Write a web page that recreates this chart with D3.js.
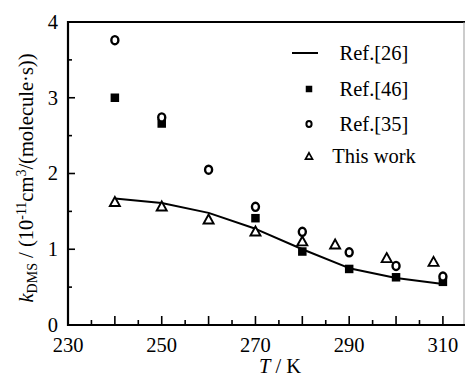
<!DOCTYPE html>
<html><head><meta charset="utf-8">
<script src="https://cdn.jsdelivr.net/npm/d3@7"></script>
<style>
html,body{margin:0;padding:0;background:#fff;}
svg{display:block;}
</style></head>
<body><svg id="c" width="465" height="383"></svg>
<script>
const xTickLabels = [230, 250, 270, 290, 310];
const yTickLabels = [0, 1, 2, 3, 4];
const ref26T = [240, 250, 260, 270, 280, 290, 300, 310];
const ref26K = [1.67, 1.61, 1.48, 1.27, 1.00, 0.75, 0.62, 0.54];
const ref46T = [240, 250, 270, 280, 290, 300, 310];
const ref46K = [3.00, 2.66, 1.41, 0.97, 0.74, 0.63, 0.57];
const ref35T = [240, 250, 260, 270, 280, 290, 300, 310];
const ref35K = [3.76, 2.74, 2.05, 1.56, 1.23, 0.96, 0.78, 0.64];
const thisT = [240, 250, 260, 270, 280, 287, 298, 308];
const thisK = [1.63, 1.57, 1.40, 1.24, 1.11, 1.07, 0.89, 0.84];
const legendLabels = ["Ref.[26]", "Ref.[46]", "Ref.[35]", "This work"];

const FONT = "Liberation Serif";
const FS = 20.5, SUB = 14;
const svg = d3.select("#c");
const L = 68, T = 22, R = 464, B = 325;
const x = d3.scaleLinear().domain([230, 314.5]).range([L, R]);
const y = d3.scaleLinear().domain([0, 4]).range([B, T]);

// frame
svg.append("line").attr("x1", L).attr("x2", 465).attr("y1", T).attr("y2", T).attr("stroke", "#000").attr("stroke-width", 2);
svg.append("line").attr("x1", R).attr("x2", R).attr("y1", T).attr("y2", B).attr("stroke", "#999").attr("stroke-width", 1);

// x axis
const xMajor = d3.range(230, 311, 10);
const xMinor = d3.range(235, 314, 10);
const gx = svg.append("g");
gx.selectAll(".xm").data(xMajor).join("line").attr("x1", d => x(d)).attr("x2", d => x(d)).attr("y1", B).attr("y2", B - 9).attr("stroke", "#000").attr("stroke-width", 1.6);
gx.selectAll(".xn").data(xMinor).join("line").attr("x1", d => x(d)).attr("x2", d => x(d)).attr("y1", B).attr("y2", B - 5).attr("stroke", "#000").attr("stroke-width", 1.6);
gx.selectAll("text").data(xTickLabels).join("text").attr("font-family", FONT).attr("x", d => x(d)).attr("y", 352).attr("text-anchor", "middle").attr("font-size", FS).text(d => d);
svg.append("line").attr("x1", L - 1).attr("x2", 465).attr("y1", B).attr("y2", B).attr("stroke", "#000").attr("stroke-width", 2.2);

// y axis
const yMinor = d3.range(0.5, 4, 1);
const gy = svg.append("g");
gy.selectAll(".ym").data(yTickLabels).join("line").attr("x1", L).attr("x2", L + 7).attr("y1", d => y(d)).attr("y2", d => y(d)).attr("stroke", "#000").attr("stroke-width", 1.6);
gy.selectAll(".yn").data(yMinor).join("line").attr("x1", L).attr("x2", L + 4).attr("y1", d => y(d)).attr("y2", d => y(d)).attr("stroke", "#000").attr("stroke-width", 1.6);
gy.selectAll("text").data(yTickLabels).join("text").attr("font-family", FONT).attr("x", 58).attr("y", d => y(d) + 6.8).attr("text-anchor", "end").attr("font-size", FS).text(d => d);
svg.append("line").attr("x1", L).attr("x2", L).attr("y1", T - 1).attr("y2", B + 1).attr("stroke", "#000").attr("stroke-width", 2.2);

// axis titles
const xt = svg.append("text").attr("font-family", FONT).attr("x", 280).attr("y", 373).attr("text-anchor", "middle").attr("font-size", FS);
xt.append("tspan").attr("font-style", "italic").text("T");
xt.append("tspan").text(" / K");

const yt = svg.append("text").attr("font-family", FONT).attr("transform", "translate(33,178) rotate(-90)").attr("text-anchor", "middle").attr("font-size", FS);
yt.append("tspan").attr("font-style", "italic").text("k");
yt.append("tspan").attr("font-size", SUB).attr("dy", 4).text("DMS");
yt.append("tspan").attr("dy", -4).text(" / (10");
yt.append("tspan").attr("font-size", SUB).attr("dy", -7.5).text("-11");
yt.append("tspan").attr("dy", 7.5).text("cm");
yt.append("tspan").attr("font-size", SUB).attr("dy", -7.5).text("3");
yt.append("tspan").attr("dy", 7.5).text("/(molecule·s))");

// line Ref.[26]
const lineGen = d3.line().x(d => x(d[0])).y(d => y(d[1]));
svg.append("path").datum(ref26T.map((t, i) => [t, ref26K[i]])).attr("d", lineGen).attr("fill", "none").attr("stroke", "#000").attr("stroke-width", 2).attr("stroke-linejoin", "round");

// markers
function square(g, cx, cy, s) {
  g.append("rect").attr("x", cx - s / 2).attr("y", cy - s / 2).attr("width", s).attr("height", s).attr("fill", "#000");
}
function circle(g, cx, cy, r, sw) {
  g.append("ellipse").attr("cx", cx).attr("cy", cy).attr("rx", r).attr("ry", r * 1.15).attr("fill", "#fff").attr("stroke", "#000").attr("stroke-width", sw);
}
function tri(g, cx, cy, s, sw) {
  const h = s * 0.9;
  g.append("path").attr("d", `M${cx},${cy - h / 2}L${cx + s / 2},${cy + h / 2}L${cx - s / 2},${cy + h / 2}Z`).attr("fill", "#fff").attr("stroke", "#000").attr("stroke-width", sw).attr("stroke-linejoin", "miter");
}
const gm = svg.append("g");
ref46T.forEach((t, i) => square(gm, x(t), y(ref46K[i]), 8.5));
ref35T.forEach((t, i) => circle(gm, x(t), y(ref35K[i]), 3.5, 2.4));
thisT.forEach((t, i) => tri(gm, x(t), y(thisK[i]), 10, 1.9));

// legend
const lg = svg.append("g");
const ly = [53, 89, 124, 156];
lg.append("line").attr("x1", 292).attr("x2", 318).attr("y1", ly[0]).attr("y2", ly[0]).attr("stroke", "#000").attr("stroke-width", 2);
square(lg, 309, ly[1], 6.5);
circle(lg, 309, ly[2], 2.6, 2);
tri(lg, 309, ly[3], 7, 1.7);
lg.selectAll("text").data(legendLabels).join("text").attr("font-family", FONT).attr("x", 374).attr("y", (d, i) => ly[i] + 7).attr("text-anchor", "middle").attr("font-size", FS).text(d => d);
</script></body></html>
